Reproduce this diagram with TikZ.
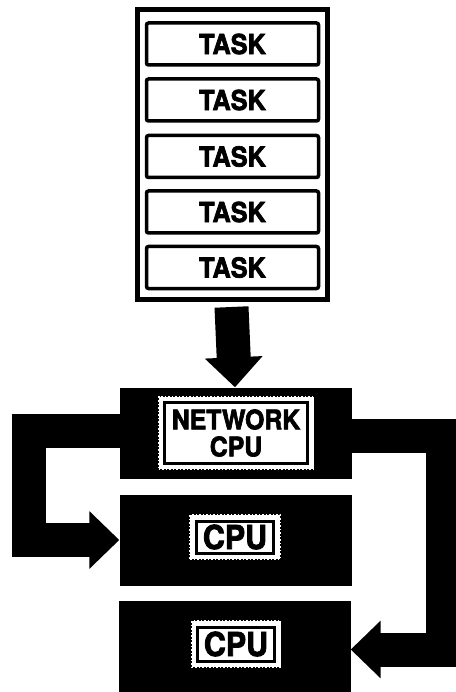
\documentclass[tikz,border=0pt]{standalone}
\usepackage{fontspec}
\newfontfamily\labelfont{TeX Gyre Heros}[UprightFont=* Bold, FakeBold=2.5, FakeStretch=0.92]
\usetikzlibrary{arrows.meta}
\tikzset{
  taskbox/.style={draw=black, line width=3.5pt, fill=white, rounded corners=2pt,
    minimum width=172pt, minimum height=42pt, inner sep=0pt,
    font=\labelfont\fontsize{27.5}{27.5}\selectfont},
  queuebox/.style={draw=black, line width=5pt, fill=white, inner sep=0pt},
  cpubox/.style={fill=black, draw=none, minimum width=232pt, minimum height=91pt, inner sep=0pt},
  tag/.style={fill=white, draw=white, line width=1.5pt, dotted, inner sep=0pt},
  tagline/.style={draw=black, line width=3pt, inner sep=0pt, solid},
  flow/.style={draw=black, line width=34pt, line join=miter},
  flowhead/.style={-{Triangle[length=30pt, width=56pt]}}
}
\begin{document}
\begin{tikzpicture}[x=1pt, y=-1pt]
  \useasboundingbox (0,0) rectangle (455,692);
  \fill[white] (0,0) rectangle (455,692);

  % task queue
  \node[queuebox, minimum width=190pt, minimum height=290pt] (queue) at (232.5,154.5) {};
  \foreach \i/\yy in {1/44, 2/100, 3/156.5, 4/212, 5/267.5}
    \node[taskbox] (t\i) at (232.5,\yy) {TASK};

  % processors
  \node[cpubox] (net)  at (236,433) {};
  \node[cpubox] (cpu1) at (235.5,540.5) {};
  \node[cpubox] (cpu2) at (234.5,646.5) {};

  % labels on the processors
  \node[tag, minimum width=155pt, minimum height=72pt] (netlab) at (net) {};
  \node[tagline, minimum width=143pt, minimum height=61pt,
        font=\labelfont\fontsize{27}{27}\selectfont, align=center] (nettext) at (net)
        {NETWORK\\CPU};
  \node[tag, minimum width=90pt, minimum height=44pt] (c1lab) at (235,537) {};
  \node[tagline, minimum width=77pt, minimum height=32pt,
        font=\labelfont\fontsize{33}{33}\selectfont] (c1text) at (c1lab) {CPU};
  \node[tag, minimum width=89pt, minimum height=46pt] (c2lab) at (236,644) {};
  \node[tagline, minimum width=77pt, minimum height=34pt,
        font=\labelfont\fontsize{33}{33}\selectfont] (c2text) at (c2lab) {CPU};

  % task queue feeds the network processor
  \coordinate (qout) at ([yshift=-5pt]queue.south);
  \draw[flow, flowhead] ([xshift=-1pt]qout) -- ([xshift=-1pt]net.north);

  % network processor passes work to the other processors
  \coordinate (lcorner) at (29,430.5);
  \coordinate (lturn) at (29,540);
  \draw[flow, flowhead] (net.west |- lcorner) -- (lcorner) -- (lturn) -- (cpu1.west |- lturn);
  \coordinate (rcorner) at (443,435.5);
  \coordinate (rturn) at (443,649.5);
  \draw[flow, flowhead] (net.east |- rcorner) -- (rcorner) -- (rturn) -- (cpu2.east |- rturn);
\end{tikzpicture}
\end{document}
